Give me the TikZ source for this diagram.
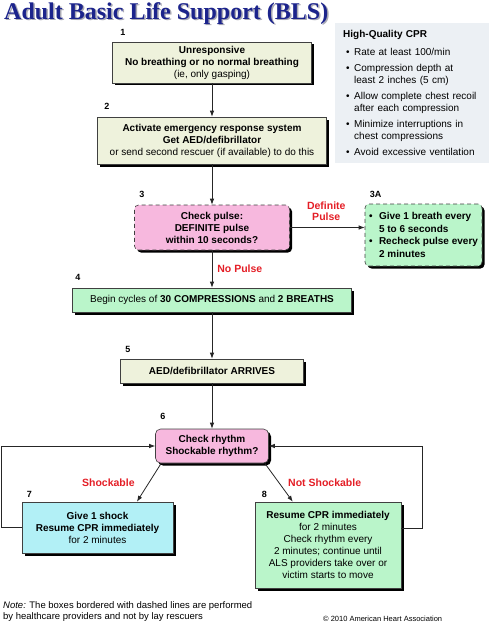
\documentclass[tikz,border=0pt]{standalone}
\usepackage{fontspec}
\setmainfont{Liberation Sans}
\newfontfamily\titlefont{Liberation Serif}
\usepackage{tikz}
\usetikzlibrary{positioning}
\usetikzlibrary{calc}
\usetikzlibrary{shadows,arrows.meta}

\definecolor{beigebox}{RGB}{238,242,220}
\definecolor{pinkbox}{RGB}{247,184,222}
\definecolor{greenbox}{RGB}{186,245,202}
\definecolor{cyanbox}{RGB}{178,240,246}
\definecolor{panelbg}{RGB}{236,240,244}
\definecolor{alertred}{RGB}{228,30,38}
\definecolor{titleblue}{RGB}{28,36,140}
\definecolor{titleshadow}{RGB}{170,170,180}

\newcommand{\bul}{\hspace*{3pt}\makebox[8pt][l]{\textbullet}}
\newcommand{\ind}{\hspace*{11pt}}
\newcommand{\bulb}{\makebox[10pt][l]{\textbullet}}
\newcommand{\indb}{\hspace*{10pt}}

\tikzset{
  box/.style={draw=black!75, line width=0.6pt, align=center, inner sep=2pt,
    font=\fontsize{10}{12}\selectfont,
    drop shadow={shadow xshift=2.5pt, shadow yshift=-2.5pt, fill=black, opacity=1}},
  dashbox/.style={box, dashed, dash pattern=on 4pt off 3pt, rounded corners=4pt},
  numlbl/.style={font=\fontsize{9}{10}\selectfont\bfseries, inner sep=0pt},
  redlbl/.style={text=alertred, align=center, inner sep=0pt,
    font=\fontsize{10.5}{11}\selectfont\bfseries},
  arr/.style={-{Latex[length=6pt,width=4.5pt]}, line width=0.8pt, black!85},
}

\begin{document}
\begin{tikzpicture}[x=1pt,y=-1pt]
  \useasboundingbox (0,0) rectangle (500,623);

  % title
  \node[anchor=north west, inner sep=0pt, text=titleshadow, font=\titlefont\bfseries\fontsize{24}{26}\selectfont] at (5.5,3.5) {Adult Basic Life Support (BLS)};
  \node[anchor=north west, inner sep=0pt, text=titleblue, font=\titlefont\bfseries\fontsize{24}{26}\selectfont] (title) at (4,2) {Adult Basic Life Support (BLS)};

  % side panel
  \node[anchor=north west, fill=panelbg, text width=138pt, align=left, inner xsep=8pt, inner ysep=7pt,
    font=\fontsize{10}{11.5}\selectfont] (cpr) at (335,23)
    {\textbf{High-Quality CPR}\\[6.5pt]
     \bul Rate at least 100/min\\[5pt]
     \bul Compression depth at\\ \ind least 2 inches (5 cm)\\[5pt]
     \bul Allow complete chest recoil\\ \ind after each compression\\[5pt]
     \bul Minimize interruptions in\\ \ind chest compressions\\[5pt]
     \bul Avoid excessive ventilation};

  % main boxes
  \node[box, fill=beigebox, minimum width=199pt, minimum height=41pt] (b1) at (212,62.5)
    {\textbf{Unresponsive}\\ \textbf{No breathing or no normal breathing}\\ (ie, only gasping)};
  \node[box, fill=beigebox, minimum width=229pt, minimum height=47pt] (b2) at (212,140.5)
    {\textbf{Activate emergency response system}\\ \textbf{Get AED/defibrillator}\\ or send second rescuer (if available) to do this};
  \node[dashbox, fill=pinkbox, minimum width=155pt, minimum height=45pt] (b3) at (212,227.5)
    {\textbf{Check pulse:}\\ \textbf{DEFINITE pulse}\\ \textbf{within 10 seconds?}};
  \node[dashbox, fill=greenbox, minimum width=117pt, minimum height=62pt, align=left, font=\fontsize{10}{12.5}\selectfont\bfseries] (b3a) at (423.5,235)
    {\bulb Give 1 breath every\\ \indb 5 to 6 seconds\\ \bulb Recheck pulse every\\ \indb 2 minutes};
  \node[box, fill=greenbox, minimum width=279pt, minimum height=24pt] (b4) at (212,300)
    {Begin cycles of \textbf{30 COMPRESSIONS} and \textbf{2 BREATHS}};
  \node[box, fill=beigebox, minimum width=183pt, minimum height=24pt] (b5) at (212,371)
    {\textbf{AED/defibrillator ARRIVES}};
  \node[box, fill=pinkbox, rounded corners=5pt, minimum width=113pt, minimum height=34pt] (b6) at (212,446)
    {\textbf{Check rhythm}\\ \textbf{Shockable rhythm?}};
  \node[box, fill=cyanbox, minimum width=151pt, minimum height=51pt] (b7) at (97.5,527.5)
    {\textbf{Give 1 shock}\\ \textbf{Resume CPR immediately}\\ for 2 minutes};
  \node[box, fill=greenbox, minimum width=146pt, minimum height=86pt] (b8) at (328,545)
    {\textbf{Resume CPR immediately}\\ for 2 minutes\\ Check rhythm every\\ 2 minutes; continue until\\ ALS providers take over or\\ victim starts to move};

  % step numbers
  \node[numlbl, above right=6pt and 8pt of b1.north west] {1};
  \node[numlbl, above right=7pt and 7pt of b2.north west] {2};
  \node[numlbl, above right=7pt and 5pt of b3.north west] {3};
  \node[numlbl, above right=6pt and 5pt of b3a.north west] {3A};
  \node[numlbl, above right=7pt and 3pt of b4.north west] {4};
  \node[numlbl, above right=6pt and 5pt of b5.north west] {5};
  \node[numlbl, above right=9pt and 5pt of b6.north west] {6};
  \node[numlbl, above right=4pt and 5pt of b7.north west] {7};
  \node[numlbl, above right=4pt and 7pt of b8.north west] {8};

  % connectors
  \draw[arr] (b1) -- (b2);
  \draw[arr] (b2) -- (b3);
  \draw[arr] (b3.east) -- (b3.east -| b3a.west)
    node[redlbl, midway, above=6pt, xshift=-1pt] {Definite\\Pulse};
  \draw[arr] (b3) -- (b4) node[redlbl, midway, right=5pt] {No Pulse};
  \draw[arr] (b4) -- (b5);
  \draw[arr] (b5) -- (b6);
  \draw[arr] ($(b6.south west)+(6,0)$) -- ($(b7.north west)!0.76!(b7.north east)$)
    node[redlbl, midway, left=14pt] {Shockable};
  \draw[arr] ($(b6.south east)+(-4,0)$) -- ($(b8.north west)!0.26!(b8.north east)$)
    node[redlbl, midway, right=9pt] {Not Shockable};
  \draw[arr] (b7.west) -- ++(-20,0) |- (b6.west);
  \draw[arr] ($(b8.north east)!0.31!(b8.south east)$) -- ++(21,0) |- (b6.east);

  % footer
  \node[anchor=north west, inner sep=0pt, align=left, font=\fontsize{9.5}{11.5}\selectfont] (note) at (3,601)
    {\textit{Note:} The boxes bordered with dashed lines are performed\\ by healthcare providers and not by lay rescuers};
  \node[anchor=base west, inner sep=0pt, font=\fontsize{7.5}{9}\selectfont] (copy) at (323,621)
    {\textcopyright\ 2010 American Heart Association};
\end{tikzpicture}
\end{document}
